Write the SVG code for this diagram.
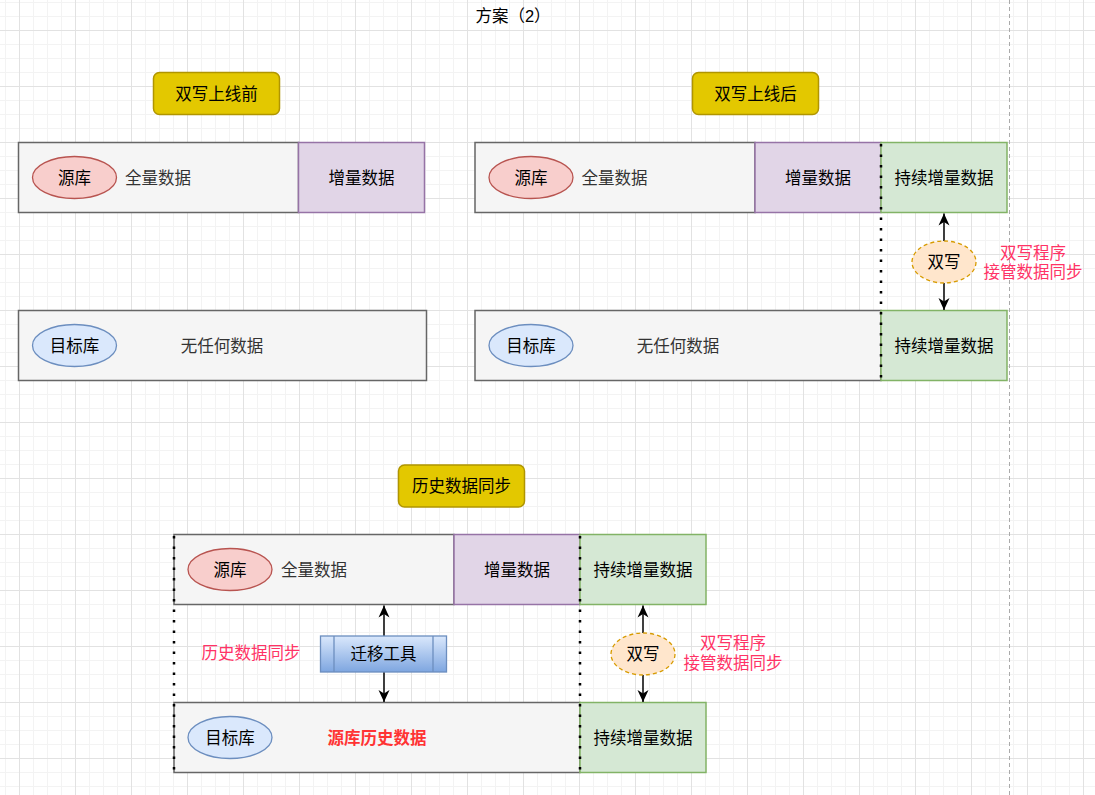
<svg xmlns="http://www.w3.org/2000/svg" width="1095" height="795" viewBox="0 0 1095 795">
<style>
text{font-family:"Liberation Sans","Noto Sans CJK SC",sans-serif;font-size:16.5px;fill:#000;dominant-baseline:central}
.c{text-anchor:middle}
.gtxt{fill:#333}
.red{fill:#FF3366}
.redb{fill:#FF3333;font-weight:bold}
.grey{fill:#f5f5f5;stroke:#666;stroke-width:1.5}
.purple{fill:#e1d5e7;stroke:#9673a6;stroke-width:1.5}
.green{fill:#d5e8d4;stroke:#82b366;stroke-width:1.5}
.src{fill:#f8cecc;stroke:#b85450;stroke-width:1.3}
.dst{fill:#dae8fc;stroke:#6c8ebf;stroke-width:1.3}
.dw{fill:#ffe6cc;stroke:#d79b00;stroke-width:1.3;stroke-dasharray:4 3}
.lab{fill:#e3c800;stroke:#B09500;stroke-width:1.5}
.edge{stroke:#000;stroke-width:1.5;fill:none;marker-end:url(#arr)}
.dot{stroke:#000;stroke-width:2.5;stroke-dasharray:2.5 8;fill:none}
</style>
<defs>
<pattern id="grid" x="19" y="30" width="56" height="56" patternUnits="userSpaceOnUse">
<path d="M14.5 0V56M28.5 0V56M42.5 0V56M0 14.5H56M0 28.5H56M0 42.5H56" stroke="#f3f3f3" stroke-width="1" fill="none"/>
<path d="M0.5 0V56M0 0.5H56" stroke="#e2e2e2" stroke-width="1" fill="none"/>
</pattern>
<linearGradient id="blueg" x1="0" y1="0" x2="0" y2="1">
<stop offset="0" stop-color="#dae8fc"/>
<stop offset="1" stop-color="#7ea6e0"/>
</linearGradient>
<marker id="arr" markerUnits="userSpaceOnUse" markerWidth="14" markerHeight="14" viewBox="0 0 14 14" refX="12" refY="7" orient="auto">
<path d="M0,1.5 L12,7 L0,12.5 L3.5,7 Z" fill="#000"/>
</marker>
</defs>
<rect width="1095" height="795" fill="#fff"/>
<rect width="1095" height="795" fill="url(#grid)"/>
<line x1="1009.5" y1="0" x2="1009.5" y2="795" stroke="#aaa" stroke-width="1" stroke-dasharray="4 3"/>

<g id="title"><text class="c" x="513" y="16">方案（2）</text></g>

<!-- Section 1 -->
<g id="label-before"><rect class="lab" x="153.5" y="72.5" width="126" height="42" rx="6"/><text class="c" x="216.5" y="93.5">双写上线前</text></g>
<g id="s1-src"><rect class="grey" x="18.5" y="142.5" width="280" height="70"/><text class="gtxt" x="125" y="177.5">全量数据</text></g>
<g id="s1-inc"><rect class="purple" x="298.5" y="142.5" width="126" height="70"/><text class="c" x="361.5" y="177.5">增量数据</text></g>
<g id="s1-src-db"><ellipse class="src" cx="74.5" cy="177.5" rx="42" ry="21"/><text class="c" x="74.5" y="177.5">源库</text></g>
<g id="s1-dst"><rect class="grey" x="18.5" y="310.5" width="408" height="70"/><text class="gtxt c" x="222" y="345.5">无任何数据</text></g>
<g id="s1-dst-db"><ellipse class="dst" cx="74.5" cy="345.5" rx="42" ry="21"/><text class="c" x="74.5" y="345.5">目标库</text></g>

<!-- Section 2 -->
<g id="label-after"><rect class="lab" x="692.5" y="72.5" width="126" height="42" rx="6"/><text class="c" x="755.5" y="93.5">双写上线后</text></g>
<g id="s2-src"><rect class="grey" x="475" y="142.5" width="280" height="70"/><text class="gtxt" x="581.5" y="177.5">全量数据</text></g>
<g id="s2-inc"><rect class="purple" x="755" y="142.5" width="126" height="70"/><text class="c" x="818" y="177.5">增量数据</text></g>
<g id="s2-cont1"><rect class="green" x="881" y="142.5" width="126" height="70"/><text class="c" x="944" y="177.5">持续增量数据</text></g>
<g id="s2-src-db"><ellipse class="src" cx="531" cy="177.5" rx="42" ry="21"/><text class="c" x="531" y="177.5">源库</text></g>
<g id="s2-dst"><rect class="grey" x="475" y="310.5" width="406" height="70"/><text class="gtxt c" x="678" y="345.5">无任何数据</text></g>
<g id="s2-cont2"><rect class="green" x="881" y="310.5" width="126" height="70"/><text class="c" x="944" y="345.5">持续增量数据</text></g>
<g id="s2-dst-db"><ellipse class="dst" cx="531" cy="345.5" rx="42" ry="21"/><text class="c" x="531" y="345.5">目标库</text></g>
<g id="s2-note"><text class="c red" x="1033" y="252.5">双写程序</text><text class="c red" x="1033" y="271.5">接管数据同步</text></g>

<!-- Section 3 -->
<g id="label-hist"><rect class="lab" x="398.5" y="465" width="126" height="42" rx="6"/><text class="c" x="461.5" y="486">历史数据同步</text></g>
<g id="s3-src"><rect class="grey" x="174" y="534.5" width="280" height="70"/><text class="gtxt" x="281" y="569.5">全量数据</text></g>
<g id="s3-inc"><rect class="purple" x="454" y="534.5" width="126" height="70"/><text class="c" x="517" y="569.5">增量数据</text></g>
<g id="s3-cont1"><rect class="green" x="580" y="534.5" width="126" height="70"/><text class="c" x="643" y="569.5">持续增量数据</text></g>
<g id="s3-src-db"><ellipse class="src" cx="230" cy="569.5" rx="42" ry="21"/><text class="c" x="230" y="569.5">源库</text></g>
<g id="s3-dst"><rect class="grey" x="174" y="702.5" width="406" height="70"/><text class="redb c" x="377" y="737.5">源库历史数据</text></g>
<g id="s3-cont2"><rect class="green" x="580" y="702.5" width="126" height="70"/><text class="c" x="643" y="737.5">持续增量数据</text></g>
<g id="s3-dst-db"><ellipse class="dst" cx="230" cy="737.5" rx="42" ry="21"/><text class="c" x="230" y="737.5">目标库</text></g>
<g id="s3-hist-note"><text class="c red" x="251" y="653">历史数据同步</text></g>
<g id="s3-note"><text class="c red" x="733" y="643">双写程序</text><text class="c red" x="733" y="663">接管数据同步</text></g>

<g id="dividers">
<line class="dot" x1="881" y1="144" x2="881" y2="381"/>
<line class="dot" x1="174" y1="536" x2="174" y2="773"/>
<line class="dot" x1="580" y1="536" x2="580" y2="773"/>
</g>

<g id="connectors">
<line class="edge" x1="944" y1="241" x2="944" y2="213.5"/>
<line class="edge" x1="944" y1="283" x2="944" y2="310"/>
<line class="edge" x1="384" y1="636" x2="384" y2="605.5"/>
<line class="edge" x1="384" y1="672" x2="384" y2="702"/>
<line class="edge" x1="643" y1="633" x2="643" y2="605.5"/>
<line class="edge" x1="643" y1="675" x2="643" y2="702"/>
</g>

<g id="s2-dualwrite"><ellipse class="dw" cx="944" cy="262" rx="32" ry="21"/><text class="c" x="944" y="262">双写</text></g>
<g id="s3-dualwrite"><ellipse class="dw" cx="643" cy="654" rx="32" ry="21"/><text class="c" x="643" y="654">双写</text></g>
<g id="s3-tool"><rect x="320.5" y="636" width="126" height="36" fill="url(#blueg)" stroke="#6c8ebf" stroke-width="1.3"/><line x1="334" y1="636" x2="334" y2="672" stroke="#6c8ebf" stroke-width="1.3"/><line x1="433" y1="636" x2="433" y2="672" stroke="#6c8ebf" stroke-width="1.3"/><text class="c" x="383.5" y="654">迁移工具</text></g>
</svg>
